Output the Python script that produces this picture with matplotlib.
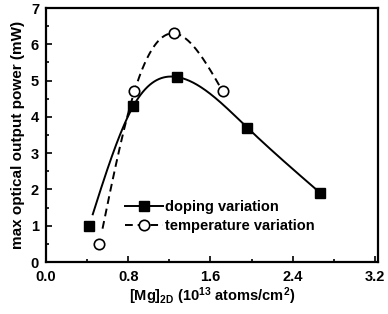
import numpy as np
import matplotlib
matplotlib.use("Agg")
import matplotlib.pyplot as plt
from matplotlib.lines import Line2D

plt.rcParams['font.family'] = ['Liberation Sans', 'DejaVu Sans']
plt.rcParams['font.weight'] = 'bold'
plt.rcParams['axes.labelweight'] = 'bold'
plt.rcParams['mathtext.fontset'] = 'custom'
plt.rcParams['mathtext.rm'] = 'Liberation Sans:bold'
plt.rcParams['mathtext.default'] = 'rm'

doping_x = [0.42, 0.85, 1.27, 1.96, 2.67]
doping_y = [1.0, 4.3, 5.1, 3.7, 1.9]
temp_x = [0.52, 0.86, 1.25, 1.72]
temp_y = [0.5, 4.7, 6.3, 4.7]
x_ticks = [0.0, 0.8, 1.6, 2.4, 3.2]
y_ticks = [0, 1, 2, 3, 4, 5, 6, 7]


def natural_spline(x, y, xs):
    x = np.asarray(x, float); y = np.asarray(y, float)
    n = len(x)
    h = np.diff(x)
    A = np.zeros((n, n)); b = np.zeros(n)
    A[0, 0] = 1; A[-1, -1] = 1
    for i in range(1, n - 1):
        A[i, i - 1] = h[i - 1]
        A[i, i] = 2 * (h[i - 1] + h[i])
        A[i, i + 1] = h[i]
        b[i] = 3 * ((y[i + 1] - y[i]) / h[i] - (y[i] - y[i - 1]) / h[i - 1])
    c = np.linalg.solve(A, b)
    out = np.empty_like(xs)
    for k, xv in enumerate(xs):
        i = min(max(np.searchsorted(x, xv) - 1, 0), n - 2)
        dx = xv - x[i]
        bi = (y[i + 1] - y[i]) / h[i] - h[i] * (2 * c[i] + c[i + 1]) / 3
        di = (c[i + 1] - c[i]) / (3 * h[i])
        out[k] = y[i] + bi * dx + c[i] * dx ** 2 + di * dx ** 3
    return out


fig = plt.figure(figsize=(3.88, 3.14), dpi=100)
ax = fig.add_axes([0.1186, 0.1656, 0.8554, 0.8089])

xs1 = np.linspace(doping_x[0] + 0.035, doping_x[-1], 300)
ax.plot(xs1, natural_spline(doping_x, doping_y, xs1), color='black', lw=1.4)
xs2 = np.linspace(temp_x[0] + 0.03, temp_x[-1], 300)
ax.plot(xs2, natural_spline(temp_x, temp_y, xs2), color='black', lw=1.4,
        dashes=(4, 2.5))
ax.plot(doping_x, doping_y, 's', color='black', ms=7.5, mec='black')
ax.plot(temp_x, temp_y, 'o', mfc='white', mec='black', ms=7.5, mew=1.2)

ax.set_xlim(0, 3.23)
ax.set_ylim(0, 7)
ax.set_xticks(x_ticks)
ax.set_xticklabels([f"{v:.1f}" for v in x_ticks])
ax.set_yticks(y_ticks)
ax.set_xticks(np.arange(0.4, 3.2, 0.8), minor=True)
ax.set_yticks(np.arange(0.5, 7, 1.0), minor=True)
ax.tick_params(which='both', direction='in', top=False, right=False,
               labelsize=10.5, width=1.2)
ax.tick_params(axis='x', pad=5.5)
ax.tick_params(axis='y', pad=5)
ax.tick_params(which='major', length=4)
ax.tick_params(which='minor', length=2.5)
for s in ax.spines.values():
    s.set_linewidth(1.6)

ax.set_xlabel(r"[Mg]$_{2D}$ (10$^{13}$ atoms/cm$^{2}$)",
              fontsize=10.5, labelpad=1)
ax.set_ylabel("max optical output power (mW)", fontsize=11, labelpad=4)

h1 = Line2D([], [], color='black', lw=1.4, marker='s', ms=7.5)
h2 = Line2D([], [], color='black', lw=1.4, dashes=(4, 2.5), marker='o',
            mfc='white', mec='black', ms=7.5, mew=1.2)
ax.legend([h1, h2], ["doping variation", "temperature variation"],
          loc='center left', bbox_to_anchor=(0.215, 0.18), frameon=False,
          prop={'size': 10.5, 'weight': 'bold'}, handlelength=2.6,
          handletextpad=0.15, labelspacing=0.35, borderpad=0)

fig.savefig("out.png", dpi=100)
